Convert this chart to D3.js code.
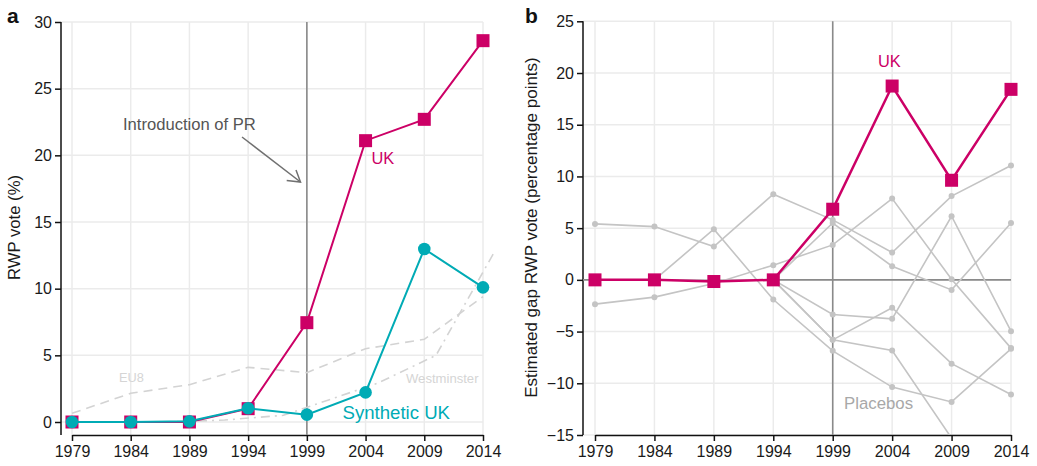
<!DOCTYPE html>
<html>
<head>
<meta charset="utf-8">
<script src="https://cdn.jsdelivr.net/npm/d3@7"></script>
<style>
  html, body { margin: 0; padding: 0; background: #fff; }
  svg { display: block; font-family: "Liberation Sans", Arial, Helvetica, sans-serif; }
</style>
</head>
<body>
<svg id="chart" width="1037" height="466"></svg>
<script>
// ---------- data ----------
const years = [1979, 1984, 1989, 1994, 1999, 2004, 2009, 2014];
const ukVote = [0, 0, 0, 1.0, 7.45, 21.1, 22.7, 28.6];
const synthVote = [0, 0, 0.05, 1.03, 0.55, 2.22, 12.98, 10.1];
const eu8Vote = [0.65, 2.15, 2.8, 4.1, 3.7, 5.5, 6.2, 9.4];
const westYears = [1979, 1983, 1987, 1992, 1997, 2001, 2005, 2010, 2015];
const westVote = [0, 0, 0, 0.15, 0.5, 1.7, 2.9, 5.0, 12.8];
const yTicksA = [0, 5, 10, 15, 20, 25, 30];

const ukGap = [0, 0, -0.16, 0, 6.83, 18.74, 9.63, 18.42];
const placebo1 = [5.41, 5.15, 3.22, 8.28, 5.8, 2.64, 8.1, 11.05];
const placebo2 = [-2.35, -1.67, -0.35, 1.42, 3.38, 7.86, 0.06, -6.6];
const placebo3 = [0, 0, 4.9, -1.9, -6.86, -10.37, -11.8, -6.67];
const placebo4 = [0, 0, 0, 0, 5.5, 1.32, -0.97, 5.5];
const placebo5 = [0, 0, 0, 0, -3.35, -3.77, 6.15, -4.96];
const placebo6 = [0, 0, 0, 0, -5.8, -2.7, -8.1, -11.08];
const placebo7 = [0, 0, 0, 0, -5.8, -6.83, -15.3, -18];
const placebos = [placebo1, placebo2, placebo3, placebo4, placebo5, placebo6, placebo7];
const yTicksB = [-15, -10, -5, 0, 5, 10, 15, 20, 25];

// ---------- styles ----------
const MAGENTA = "#cc0066";
const TEAL = "#00abb5";
const GRID = "#ebebeb";
const TICKFONT = 16;

const svg = d3.select("#chart");

function drawPanel(opts) {
  const g = svg.append("g");
  const { x, y, left, top, bottom, yTicks } = opts;
  const right = x(2014);
  // grid
  g.selectAll(".vg").data(years).join("line")
    .attr("x1", d => x(d)).attr("x2", d => x(d))
    .attr("y1", top).attr("y2", bottom)
    .attr("stroke", GRID).attr("stroke-width", 1.5);
  g.selectAll(".hg").data(yTicks).join("line")
    .attr("x1", left).attr("x2", right)
    .attr("y1", d => y(d)).attr("y2", d => y(d))
    .attr("stroke", GRID).attr("stroke-width", 1.5);
  // x axis
  const xa = g.append("g").attr("transform", `translate(0,${bottom})`)
    .call(d3.axisBottom(x).tickValues(years).tickFormat(d3.format("d")).tickSize(6).tickSizeOuter(0).tickPadding(5));
  xa.select(".domain").attr("stroke", "#111").attr("stroke-width", 1.5);
  xa.selectAll(".tick line").attr("stroke", "#111").attr("stroke-width", 1.5);
  xa.selectAll("text").attr("font-size", TICKFONT).attr("fill", "#1a1a1a").style("font-family", "Liberation Sans, Arial, sans-serif");
  // y axis
  const ya = g.append("g").attr("transform", `translate(${left},0)`)
    .call(d3.axisLeft(y).tickValues(yTicks).tickSize(6).tickSizeOuter(0).tickPadding(3));
  ya.select(".domain").remove();
  ya.selectAll(".tick line").attr("stroke", "#111").attr("stroke-width", 1.5);
  ya.selectAll("text").attr("font-size", TICKFONT).attr("fill", "#1a1a1a").style("font-family", "Liberation Sans, Arial, sans-serif");
  g.append("line").attr("x1", left).attr("x2", left).attr("y1", top).attr("y2", bottom)
    .attr("stroke", "#111").attr("stroke-width", 1.5);
  // PR vertical line
  g.append("line").attr("x1", x(1999)).attr("x2", x(1999)).attr("y1", top).attr("y2", bottom)
    .attr("stroke", "#8a8a8a").attr("stroke-width", 1.6);
  return g;
}

// ---------- Panel a ----------
const xA = d3.scaleLinear().domain([1979, 2014]).range([72, 483]);
const yA = d3.scaleLinear().domain([0, 30]).range([422, 22]);
const gA = drawPanel({ x: xA, y: yA, left: 61, top: 22, bottom: 435, yTicks: yTicksA });

const lineA = d3.line().x(d => xA(d[0])).y(d => yA(d[1]));
gA.append("path").datum(years.map((yr, i) => [yr, eu8Vote[i]]))
  .attr("d", lineA).attr("fill", "none").attr("stroke", "#d3d3d3")
  .attr("stroke-width", 1.6).attr("stroke-dasharray", "9,6");
gA.append("path").datum(westYears.map((yr, i) => [yr, westVote[i]]))
  .attr("d", lineA).attr("fill", "none").attr("stroke", "#d3d3d3")
  .attr("stroke-width", 1.6).attr("stroke-dasharray", "9,5,2,5");

gA.append("path").datum(years.map((yr, i) => [yr, ukVote[i]]))
  .attr("d", lineA).attr("fill", "none").attr("stroke", MAGENTA).attr("stroke-width", 2);
gA.selectAll(".ukA").data(years.map((yr, i) => [yr, ukVote[i]])).join("rect")
  .attr("x", d => xA(d[0]) - 6.5).attr("y", d => yA(d[1]) - 6.5)
  .attr("width", 13).attr("height", 13).attr("fill", MAGENTA);

gA.append("path").datum(years.map((yr, i) => [yr, synthVote[i]]))
  .attr("d", lineA).attr("fill", "none").attr("stroke", TEAL).attr("stroke-width", 2);
gA.selectAll(".synA").data(years.map((yr, i) => [yr, synthVote[i]])).join("circle")
  .attr("cx", d => xA(d[0])).attr("cy", d => yA(d[1])).attr("r", 6.3).attr("fill", TEAL);

// annotations a
gA.append("text").attr("x", 123).attr("y", 130).attr("font-size", 16.6).attr("fill", "#555")
  .text("Introduction of PR");
gA.append("line").attr("x1", 242).attr("y1", 137).attr("x2", 300.5).attr("y2", 182)
  .attr("stroke", "#707070").attr("stroke-width", 1.5);
gA.append("path").attr("d", "M286.7,180.5 L300.5,182 L296,170")
  .attr("fill", "none").attr("stroke", "#707070").attr("stroke-width", 1.5);
gA.append("text").attr("x", 371.5).attr("y", 164).attr("font-size", 16.4).attr("fill", MAGENTA).text("UK");
gA.append("text").attr("x", 342.5).attr("y", 419).attr("font-size", 18.6).attr("fill", TEAL).text("Synthetic UK");
gA.append("text").attr("x", 119).attr("y", 382).attr("font-size", 12.8).attr("fill", "#d5d5d5").text("EU8");
gA.append("text").attr("x", 406).attr("y", 383).attr("font-size", 13.1).attr("fill", "#d5d5d5").text("Westminster");

svg.append("text").attr("transform", "translate(20,227.5) rotate(-90)").attr("text-anchor", "middle")
  .attr("font-size", 16.7).attr("fill", "#1a1a1a").text("RWP vote (%)");
svg.append("text").attr("x", 7).attr("y", 23).attr("font-size", 21).attr("font-weight", "bold").attr("fill", "#111").text("a");

// ---------- Panel b ----------
const xB = d3.scaleLinear().domain([1979, 2014]).range([595, 1011]);
const yB = d3.scaleLinear().domain([-15, 25]).range([435, 21.3]);
const gB = drawPanel({ x: xB, y: yB, left: 583, top: 21.3, bottom: 435, yTicks: yTicksB });
// zero line
gB.append("line").attr("x1", 583).attr("x2", xB(2014)).attr("y1", yB(0)).attr("y2", yB(0))
  .attr("stroke", "#8a8a8a").attr("stroke-width", 1.6);

svg.append("defs").append("clipPath").attr("id", "clipB").append("rect")
  .attr("x", 583).attr("y", 21.3).attr("width", 460).attr("height", 435 - 21.3);

const lineB = d3.line().x(d => xB(d[0])).y(d => yB(d[1]));
const gP = gB.append("g").attr("clip-path", "url(#clipB)");
placebos.forEach(p => {
  const pts = years.map((yr, i) => [yr, p[i]]);
  gP.append("path").datum(pts).attr("d", lineB).attr("fill", "none")
    .attr("stroke", "#c4c4c4").attr("stroke-width", 1.6);
  gP.selectAll(null).data(pts).join("circle")
    .attr("cx", d => xB(d[0])).attr("cy", d => yB(d[1])).attr("r", 3).attr("fill", "#c4c4c4");
});

gB.append("path").datum(years.map((yr, i) => [yr, ukGap[i]]))
  .attr("d", lineB).attr("fill", "none").attr("stroke", MAGENTA).attr("stroke-width", 2.5);
gB.selectAll(".ukB").data(years.map((yr, i) => [yr, ukGap[i]])).join("rect")
  .attr("x", d => xB(d[0]) - 6.5).attr("y", d => yB(d[1]) - 6.5)
  .attr("width", 13).attr("height", 13).attr("fill", MAGENTA);

gB.append("text").attr("x", 878).attr("y", 67).attr("font-size", 16.4).attr("fill", MAGENTA).text("UK");
gB.append("text").attr("x", 844).attr("y", 409).attr("font-size", 16.8).attr("fill", "#a8a8a8").text("Placebos");

svg.append("text").attr("transform", "translate(537,227.5) rotate(-90)").attr("text-anchor", "middle")
  .attr("font-size", 17).attr("fill", "#1a1a1a").text("Estimated gap RWP vote (percentage points)");
svg.append("text").attr("x", 525).attr("y", 23).attr("font-size", 21).attr("font-weight", "bold").attr("fill", "#111").text("b");
</script>
</body>
</html>
